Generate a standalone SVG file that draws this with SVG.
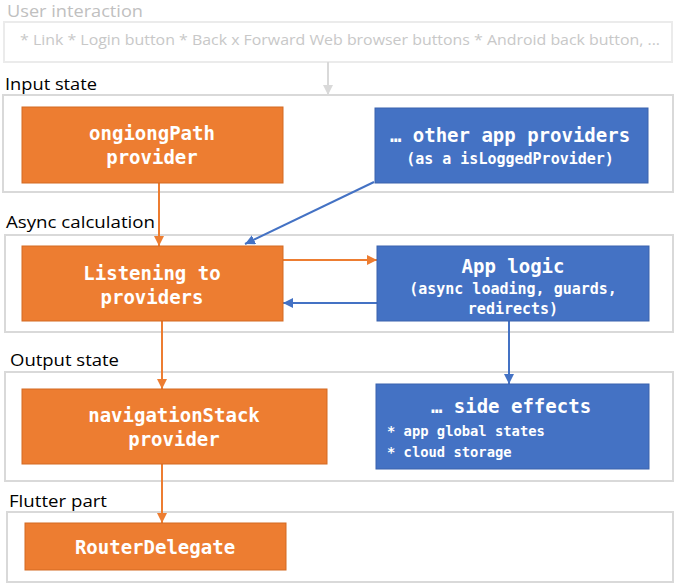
<svg xmlns="http://www.w3.org/2000/svg" width="676" height="586" viewBox="0 0 676 586">
<defs>
<style>
.sec{fill:#fff;stroke:#d9d9d9;stroke-width:2}
.lbl{font-family:"Open Sans","Liberation Sans",sans-serif;font-size:17px;fill:#000}
.or{fill:#ED7D31;stroke:#d36a22;stroke-width:1}
.bl{fill:#4472C4;stroke:#3a63ad;stroke-width:1}
.t{font-family:"DejaVu Sans Mono","Liberation Mono",monospace;font-weight:bold;fill:#fff;text-anchor:middle}
.big{font-size:19px}
.sm{font-size:15px}
.xs{font-size:13.8px}
.ca{stroke:#ED7D31;stroke-width:2;fill:none}
.cb{stroke:#4472C4;stroke-width:2;fill:none}
.cg{stroke:#d9d9d9;stroke-width:2;fill:none}
</style>
<marker id="ao" markerUnits="userSpaceOnUse" markerWidth="10" markerHeight="10" viewBox="0 0 10 10" refX="10" refY="5" orient="auto"><path d="M0,0 L10,5 L0,10 z" fill="#ED7D31"/></marker>
<marker id="ab" markerUnits="userSpaceOnUse" markerWidth="10" markerHeight="10" viewBox="0 0 10 10" refX="10" refY="5" orient="auto"><path d="M0,0 L10,5 L0,10 z" fill="#4472C4"/></marker>
<marker id="ag" markerUnits="userSpaceOnUse" markerWidth="10" markerHeight="10" viewBox="0 0 10 10" refX="10" refY="5" orient="auto"><path d="M0,0 L10,5 L0,10 z" fill="#d9d9d9"/></marker>
</defs>
<rect width="676" height="586" fill="#fff"/>

<g id="sec-user">
<text x="7" y="17" class="lbl" style="fill:#c0c0c0" textLength="136" lengthAdjust="spacingAndGlyphs">User interaction</text>
<rect x="4" y="22" width="668" height="40" fill="#fff" stroke="#ebebeb" stroke-width="2"/>
<text x="20" y="45" font-family="'Open Sans','Liberation Sans',sans-serif" font-size="15" fill="#c8c8c8" textLength="640" lengthAdjust="spacingAndGlyphs">* Link * Login button * Back x Forward Web browser buttons * Android back button, ...</text>
</g>

<g id="sec-input">
<text x="5" y="90" class="lbl" textLength="92" lengthAdjust="spacingAndGlyphs">Input state</text>
<rect x="3" y="95" width="670" height="97" class="sec"/>
</g>
<g id="sec-async">
<text x="6" y="228" class="lbl" textLength="149" lengthAdjust="spacingAndGlyphs">Async calculation</text>
<rect x="5" y="235" width="668" height="97" class="sec"/>
</g>
<g id="sec-output">
<text x="10" y="366" class="lbl" textLength="109" lengthAdjust="spacingAndGlyphs">Output state</text>
<rect x="5" y="372" width="668" height="109" class="sec"/>
</g>
<g id="sec-flutter">
<text x="9" y="507" class="lbl" textLength="98" lengthAdjust="spacingAndGlyphs">Flutter part</text>
<rect x="7" y="512" width="666" height="70" class="sec"/>
</g>

<g id="connectors">
<line x1="328" y1="62" x2="328" y2="95" class="cg" marker-end="url(#ag)"/>
<line x1="159" y1="183" x2="159" y2="246" class="ca" marker-end="url(#ao)"/>
<line x1="374" y1="182" x2="245" y2="244" class="cb" marker-end="url(#ab)"/>
<line x1="283" y1="260" x2="377" y2="260" class="ca" marker-end="url(#ao)"/>
<line x1="377" y1="303" x2="283" y2="303" class="cb" marker-end="url(#ab)"/>
<line x1="162" y1="321" x2="162" y2="389" class="ca" marker-end="url(#ao)"/>
<line x1="509" y1="321" x2="509" y2="384" class="cb" marker-end="url(#ab)"/>
<line x1="162" y1="464" x2="162" y2="523" class="ca" marker-end="url(#ao)"/>
</g>

<g id="ongiongPath">
<rect x="22" y="107" width="261" height="76" class="or"/>
<text x="152" y="140" class="t big">ongiongPath</text>
<text x="152" y="164" class="t big">provider</text>
</g>
<g id="otherProviders">
<rect x="375" y="108" width="273" height="75" class="bl"/>
<text x="510" y="142" class="t big">… other app providers</text>
<text x="510" y="164" class="t sm">(as a isLoggedProvider)</text>
</g>
<g id="listening">
<rect x="22" y="246" width="261" height="75" class="or"/>
<text x="152" y="280" class="t big">Listening to</text>
<text x="152" y="304" class="t big">providers</text>
</g>
<g id="appLogic">
<rect x="377" y="246" width="272" height="75" class="bl"/>
<text x="513" y="273" class="t big">App logic</text>
<text x="513" y="294" class="t sm">(async loading, guards,</text>
<text x="513" y="314" class="t sm">redirects)</text>
</g>
<g id="navigationStack">
<rect x="22" y="389" width="305" height="75" class="or"/>
<text x="174" y="422" class="t big">navigationStack</text>
<text x="174" y="446" class="t big">provider</text>
</g>
<g id="sideEffects">
<rect x="376" y="384" width="273" height="85" class="bl"/>
<text x="511" y="413" class="t big">… side effects</text>
<text x="387" y="436" class="t xs" style="text-anchor:start">* app global states</text>
<text x="387" y="457" class="t xs" style="text-anchor:start">* cloud storage</text>
</g>
<g id="routerDelegate">
<rect x="25" y="523" width="261" height="47" class="or"/>
<text x="155" y="554" class="t big">RouterDelegate</text>
</g>
</svg>
